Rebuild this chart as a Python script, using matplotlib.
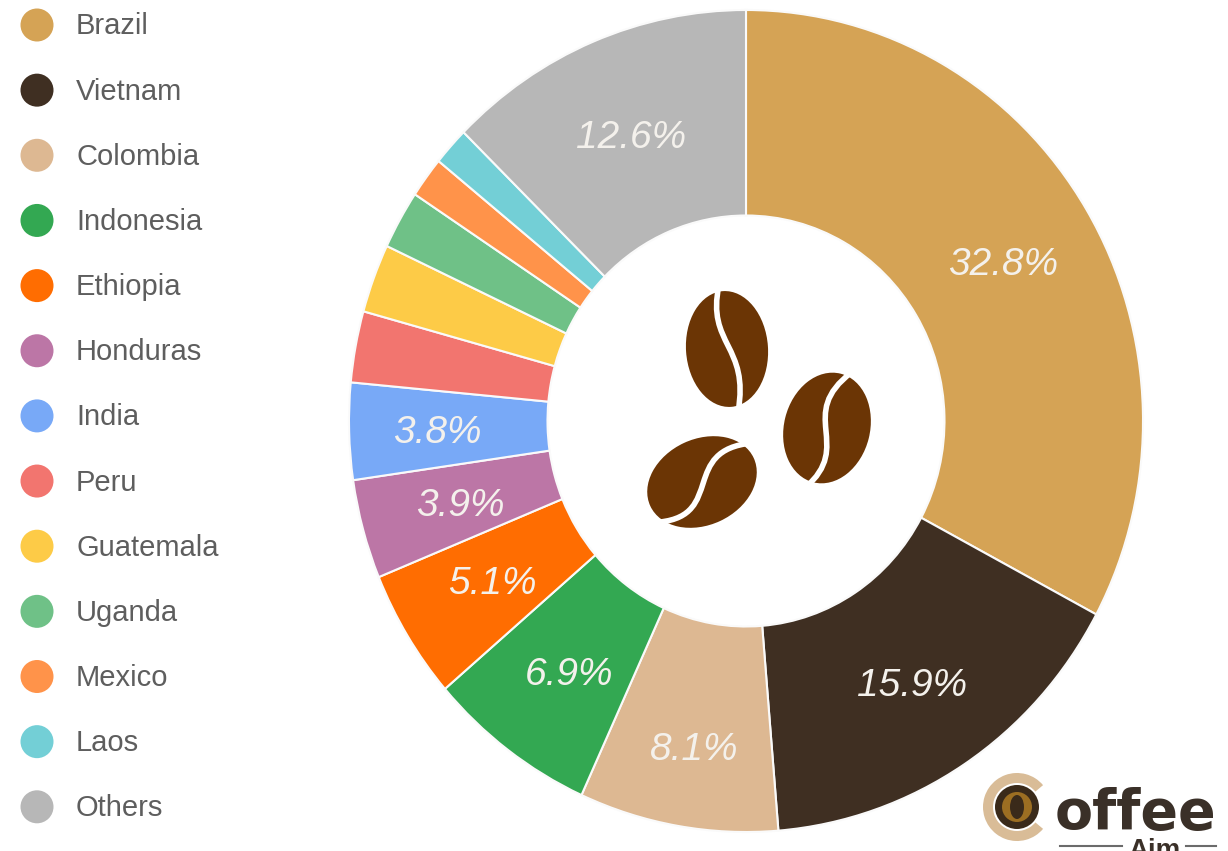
import matplotlib
matplotlib.use('Agg')
import matplotlib.pyplot as plt
from matplotlib.patches import Ellipse, Circle, Wedge, PathPatch
from matplotlib.path import Path

plt.rcParams['font.family'] = ['Liberation Sans', 'DejaVu Sans']

countries = ['Brazil', 'Vietnam', 'Colombia', 'Indonesia', 'Ethiopia', 'Honduras', 'India',
             'Peru', 'Guatemala', 'Uganda', 'Mexico', 'Laos', 'Others']
shares = [32.8, 15.9, 8.1, 6.9, 5.1, 3.9, 3.8, 2.8, 2.7, 2.3, 1.6, 1.5, 12.6]
colors = ['#D5A355', '#3F2F22', '#DDB892', '#33A852', '#FF6D01', '#BC76A6', '#78A9F7',
          '#F2756F', '#FDCB47', '#6FC187', '#FF934A', '#73CFD6', '#B7B7B7']

W, H = 1228, 851
BROWN = '#6B3505'

fig = plt.figure(figsize=(W / 100, H / 100), dpi=100, facecolor='white')

# donut, slightly taller than wide
ax = fig.add_axes([349 / W, 1 - 832 / H, 794 / W, 822 / H])
wedges, texts, pcts = ax.pie(shares, colors=colors, startangle=90, counterclock=False, radius=1,
                             wedgeprops=dict(width=0.5, edgecolor='#FAFAFA', linewidth=1.5),
                             autopct=lambda p: '%.1f%%' % p if p >= 3.5 else '',
                             pctdistance=0.75,
                             textprops=dict(color='#F4F1EC', fontsize=28, fontstyle='italic'))
ax.set_aspect('auto')
ax.set_xlim(-1, 1)
ax.set_ylim(-1, 1)

# small hand shifts of the percent labels, in pixels (right, down)
nudges = {0: (2, 3), 1: (3, 7), 2: (-1, 25), 3: (2, 7), 4: (0, 2), 5: (2, 4), 6: (-11, 4), 12: (0, 1)}
for i, (dx, dy) in nudges.items():
    x, y = pcts[i].get_position()
    pcts[i].set_position((x + dx * 2 / 794, y - dy * 2 / 822))

# overlay in pixel coordinates for legend, icon and logo
ov = fig.add_axes([0, 0, 1, 1])
ov.set_xlim(0, W)
ov.set_ylim(H, 0)
ov.axis('off')
ov.patch.set_alpha(0)

# legend
for i, (name, col) in enumerate(zip(countries, colors)):
    y = 25 + i * 65.15
    ov.add_patch(Circle((37, y), 16.5, color=col, lw=0))
    ov.text(76, y + 1.5, name, fontsize=21, color='#5E5E5E', va='center', ha='left')


def bean(cx, cy, a, b, angle, slit):
    ov.add_patch(Ellipse((cx, cy), 2 * a, 2 * b, angle=angle, color=BROWN, lw=0))
    codes = [Path.MOVETO] + [Path.CURVE4] * (len(slit) - 1)
    ov.add_patch(PathPatch(Path(slit, codes), fc='none', ec='white', lw=4, capstyle='butt'))


# coffee beans in the hole
bean(727, 349, 41, 58, -4,
     [(719, 285), (706, 345), (750, 345), (738, 412)])
bean(827, 428, 43, 56, 14,
     [(852, 372), (795, 415), (855, 445), (805, 488)])
bean(702, 482, 43, 57, 65,
     [(752, 443), (680, 450), (725, 515), (660, 522)])

# logo
ov.add_patch(Wedge((1017, 807), 34, 40, 320, width=10, color='#D9BC97', lw=0))
ov.add_patch(Circle((1017, 807), 22, color='#3A2A1A', lw=0))
ov.add_patch(Circle((1017, 807), 15, color='#9C6E22', lw=0))
ov.add_patch(Ellipse((1017, 807), 14, 24, color='#3A2A1A', lw=0))
ov.text(1055, 829, 'offee', fontsize=40, fontweight='bold', family='DejaVu Sans',
        color='#3A3028', ha='left', va='baseline')
ov.text(1154, 858, 'Aim', fontsize=20, fontweight='bold', color='#3A3028', ha='center', va='baseline')
ov.plot([1060, 1122], [846, 846], color='#6B6B6B', lw=1.5)
ov.plot([1186, 1216], [846, 846], color='#6B6B6B', lw=1.5)

fig.savefig('out.png', dpi=100)
